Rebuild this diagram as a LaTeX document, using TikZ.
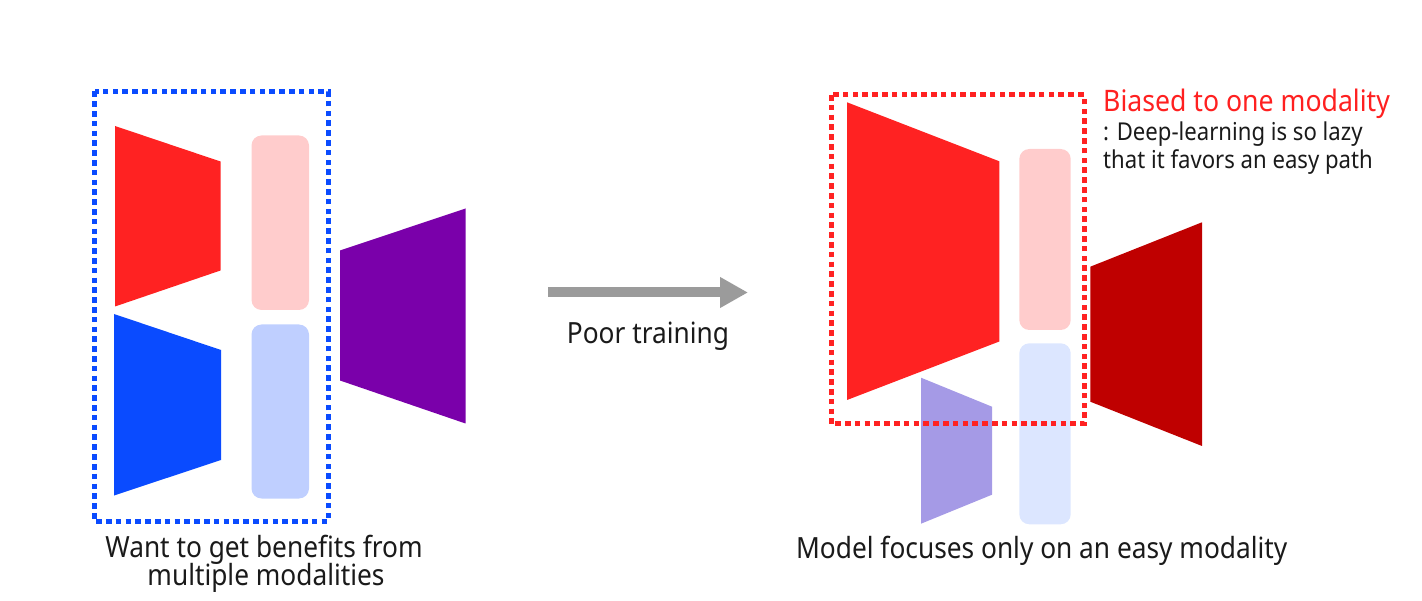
\documentclass[tikz,border=0pt]{standalone}
\usepackage{fontspec}
\setmainfont{Noto Sans}[FakeStretch=0.9]
\usetikzlibrary{arrows.meta}
\definecolor{cRed}{HTML}{FF2222}
\definecolor{cBlue}{HTML}{0A4BFF}
\definecolor{cPink}{HTML}{FFCCCC}
\definecolor{cLBlue}{HTML}{BFCFFF}
\definecolor{cPurple}{HTML}{7A00AA}
\definecolor{cLBlue2}{HTML}{DCE6FF}
\definecolor{cLav}{HTML}{A59AE6}
\definecolor{cDRed}{HTML}{BF0000}
\definecolor{cGray}{HTML}{9B9B9B}
\definecolor{cTxt}{HTML}{1A1A1A}
\definecolor{cRedTxt}{HTML}{FF2020}
\tikzset{
  dotbox/.style={line width=5pt, dash pattern=on 5.6pt off 4.2pt, line cap=butt},
  featbox/.style={rounded corners=10pt},
  lbl/.style={inner sep=0pt, text=cTxt, font=\fontsize{29.2}{34}\selectfont},
  note/.style={inner sep=0pt, text=cTxt, font=\fontsize{24.6}{29}\selectfont},
}
\begin{document}
\begin{tikzpicture}[x=1pt,y=-1pt]
\useasboundingbox (0,0) rectangle (1422,601);
% ---------- left panel ----------
\fill[cRed] (115,126) -- (220.5,161.5) -- (220.5,270.5) -- (115,306.5) -- cycle;
\fill[cBlue] (114,314) -- (221,350) -- (221,460) -- (114,495.5) -- cycle;
\fill[cPink, featbox] (251.5,135.5) rectangle (309,310);
\fill[cLBlue, featbox] (251.5,324.5) rectangle (309,498.5);
\fill[cPurple] (340,250.5) -- (465.5,208.5) -- (465.5,423.5) -- (340,380.5) -- cycle;
\draw[cBlue, dotbox] (94.5,91.5) rectangle (328.5,521);
\node[lbl, anchor=base] (lefttxt1) at (264,557) {Want to get benefits from};
\node[lbl, anchor=base] (lefttxt2) at (266,585.5) {multiple modalities};
% ---------- arrow ----------
\coordinate (arrS) at (548,292.5);
\coordinate (arrE) at (748,292.5);
\draw[cGray, line width=10pt, -{Triangle[length=28pt,width=29pt]}] (arrS) -- (arrE);
\node[lbl, anchor=base] (poor) at (648,344) {Poor training};
% ---------- right panel ----------
\fill[cRed] (847,102.3) -- (999.3,161.3) -- (999.3,341.5) -- (847,400) -- cycle;
\fill[cPink, featbox] (1019.3,149) rectangle (1070.7,330);
\fill[cLBlue2, featbox] (1019.3,343.3) rectangle (1070.7,524.3);
\fill[cLav] (921,377.7) -- (992,406.7) -- (992,494.7) -- (921,523.7) -- cycle;
\fill[cDRed] (1090.3,266.7) -- (1202,222.3) -- (1202,446) -- (1090.3,401.7) -- cycle;
\draw[cRed, dotbox] (831,95) rectangle (1084,424);
\node[lbl, anchor=base west, text=cRedTxt, font=\fontsize{29.6}{34}\selectfont] (biased) at (1103,111.7) {Biased to one modality};
\node[note, anchor=base west] (lazy1) at (1103,140.7) {: Deep-learning is so lazy};
\node[note, anchor=base west] (lazy2) at (1103,168.3) {that it favors an easy path};
\node[lbl, anchor=base] (righttxt) at (1041.7,558) {Model focuses only on an easy modality};
\end{tikzpicture}
\end{document}
